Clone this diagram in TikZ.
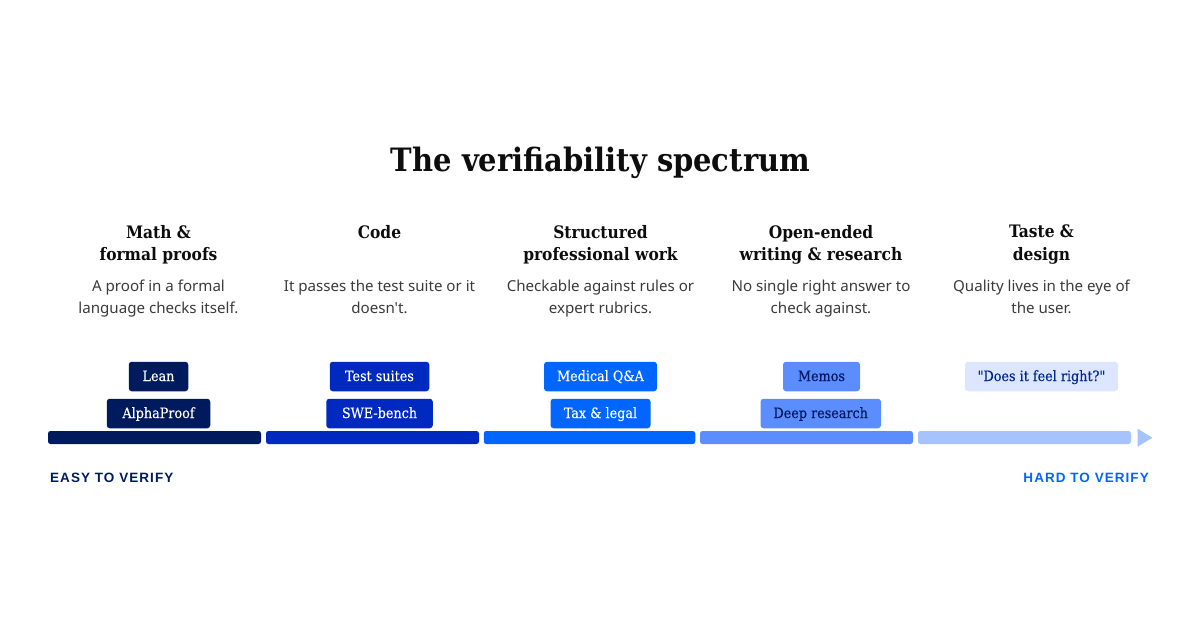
\documentclass[tikz,border=0pt]{standalone}
\usepackage{fontspec}
\newfontfamily\bodyfont{Noto Sans}
\newfontfamily\slabfont{DejaVu Serif Condensed}
\newfontfamily\tagfont[FakeBold=0.3]{DejaVu Serif Condensed}
\newfontfamily\capsfont[LetterSpace=7.8]{Liberation Sans}
\definecolor{navy}{HTML}{001A5E}
\definecolor{cobalt}{HTML}{0029BF}
\definecolor{azure}{HTML}{0066FF}
\definecolor{sky}{HTML}{5C8DFF}
\definecolor{pale}{HTML}{A6C3FF}
\definecolor{mist}{HTML}{DCE6FF}
\definecolor{inkblue}{HTML}{00298F}
\definecolor{bodytext}{HTML}{3A3A3A}
\tikzset{
    headline/.style={font=\slabfont\bfseries\fontsize{32.2}{38}\selectfont, text=black!95},
    coltitle/.style={font=\slabfont\bfseries\fontsize{17.2}{22.5}\selectfont, align=center, text=black!95, anchor=north, inner sep=0pt, execute at begin node=\strut, execute at end node=\strut},
    coltext/.style={font=\bodyfont\fontsize{15.1}{22}\selectfont, align=center, text=bodytext, anchor=north, inner sep=0pt, execute at begin node=\strut, execute at end node=\strut},
    tagbox/.style={font=\tagfont\fontsize{14.2}{16}\selectfont, minimum height=29.5pt, inner xsep=0pt, inner ysep=0pt, text height=12pt, text depth=3pt, rounded corners=3pt},
    barbox/.style={minimum height=13pt, inner sep=0pt, rounded corners=2.5pt},
    endlabel/.style={font=\capsfont\bfseries\fontsize{13.5}{16}\selectfont}
}
\begin{document}
\begin{tikzpicture}[x=1pt,y=-1pt]
    \useasboundingbox (0,0) rectangle (1200,630);
    \node[headline] (title) at (600.5,163) {The verifiability spectrum};

    \node[coltitle] (math) at (158.5,224.75) {Math \&\\formal proofs};
    \node[coltitle] (code) at (379.5,222.75) {Code};
    \node[coltitle] (work) at (600.5,224.75) {Structured\\professional work};
    \node[coltitle] (open) at (821,224.75) {Open-ended\\writing \& research};
    \node[coltitle] (taste) at (1041.5,224.75) {Taste \&\\design};

    \node[coltext] (mathtext) at (158.5,279.6) {A proof in a formal\\language checks itself.};
    \node[coltext] (codetext) at (379.5,279.6) {It passes the test suite or it\\doesn't.};
    \node[coltext] (worktext) at (600.5,279.6) {Checkable against rules or\\expert rubrics.};
    \node[coltext] (opentext) at (821,279.6) {No single right answer to\\check against.};
    \node[coltext] (tastetext) at (1041.5,279.6) {Quality lives in the eye of\\the user.};

    \node[tagbox, fill=navy, text=white, minimum width=59.5pt] (lean) at (158.5,376.5) {Lean};
    \node[tagbox, fill=navy, text=white, minimum width=103.5pt] (alpha) at (158.5,413.5) {AlphaProof};
    \node[tagbox, fill=cobalt, text=white, minimum width=99.5pt] (tests) at (379.5,376.5) {Test suites};
    \node[tagbox, fill=cobalt, text=white, minimum width=106.5pt] (swe) at (379.5,413.5) {SWE-bench};
    \node[tagbox, fill=azure, text=white, minimum width=113pt] (medical) at (600.5,376.5) {Medical Q\&A};
    \node[tagbox, fill=azure, text=white, minimum width=100pt] (legal) at (600.5,413.5) {Tax \& legal};
    \node[tagbox, fill=sky, text=navy, minimum width=77pt] (memos) at (821.5,376.5) {Memos};
    \node[tagbox, fill=sky, text=navy, minimum width=120.5pt] (deep) at (820.75,413.5) {Deep research};
    \node[tagbox, fill=mist, text=inkblue, minimum width=153pt] (feel) at (1041.5,376.5) {"Does it feel right?"};

    \node[barbox, fill=navy, minimum width=213pt] (bara) at (154.5,437.5) {};
    \node[barbox, fill=cobalt, minimum width=213pt] (barb) at (372.5,437.5) {};
    \node[barbox, fill=azure, minimum width=211.5pt] (barc) at (589.5,437.5) {};
    \node[barbox, fill=sky, minimum width=213pt] (bard) at (806.5,437.5) {};
    \node[barbox, fill=pale, minimum width=213pt] (bare) at (1024.5,437.5) {};
    \fill[pale] (1137.7,428.7) -- (1152.3,437.7) -- (1137.7,446.7) -- cycle;

    \node[endlabel, text=navy, anchor=west, inner sep=0pt] (easy) at (50,477.5) {EASY TO VERIFY};
    \node[endlabel, text=azure, anchor=east, inner sep=0pt] (hard) at (1149,477.5) {HARD TO VERIFY};
\end{tikzpicture}
\end{document}
